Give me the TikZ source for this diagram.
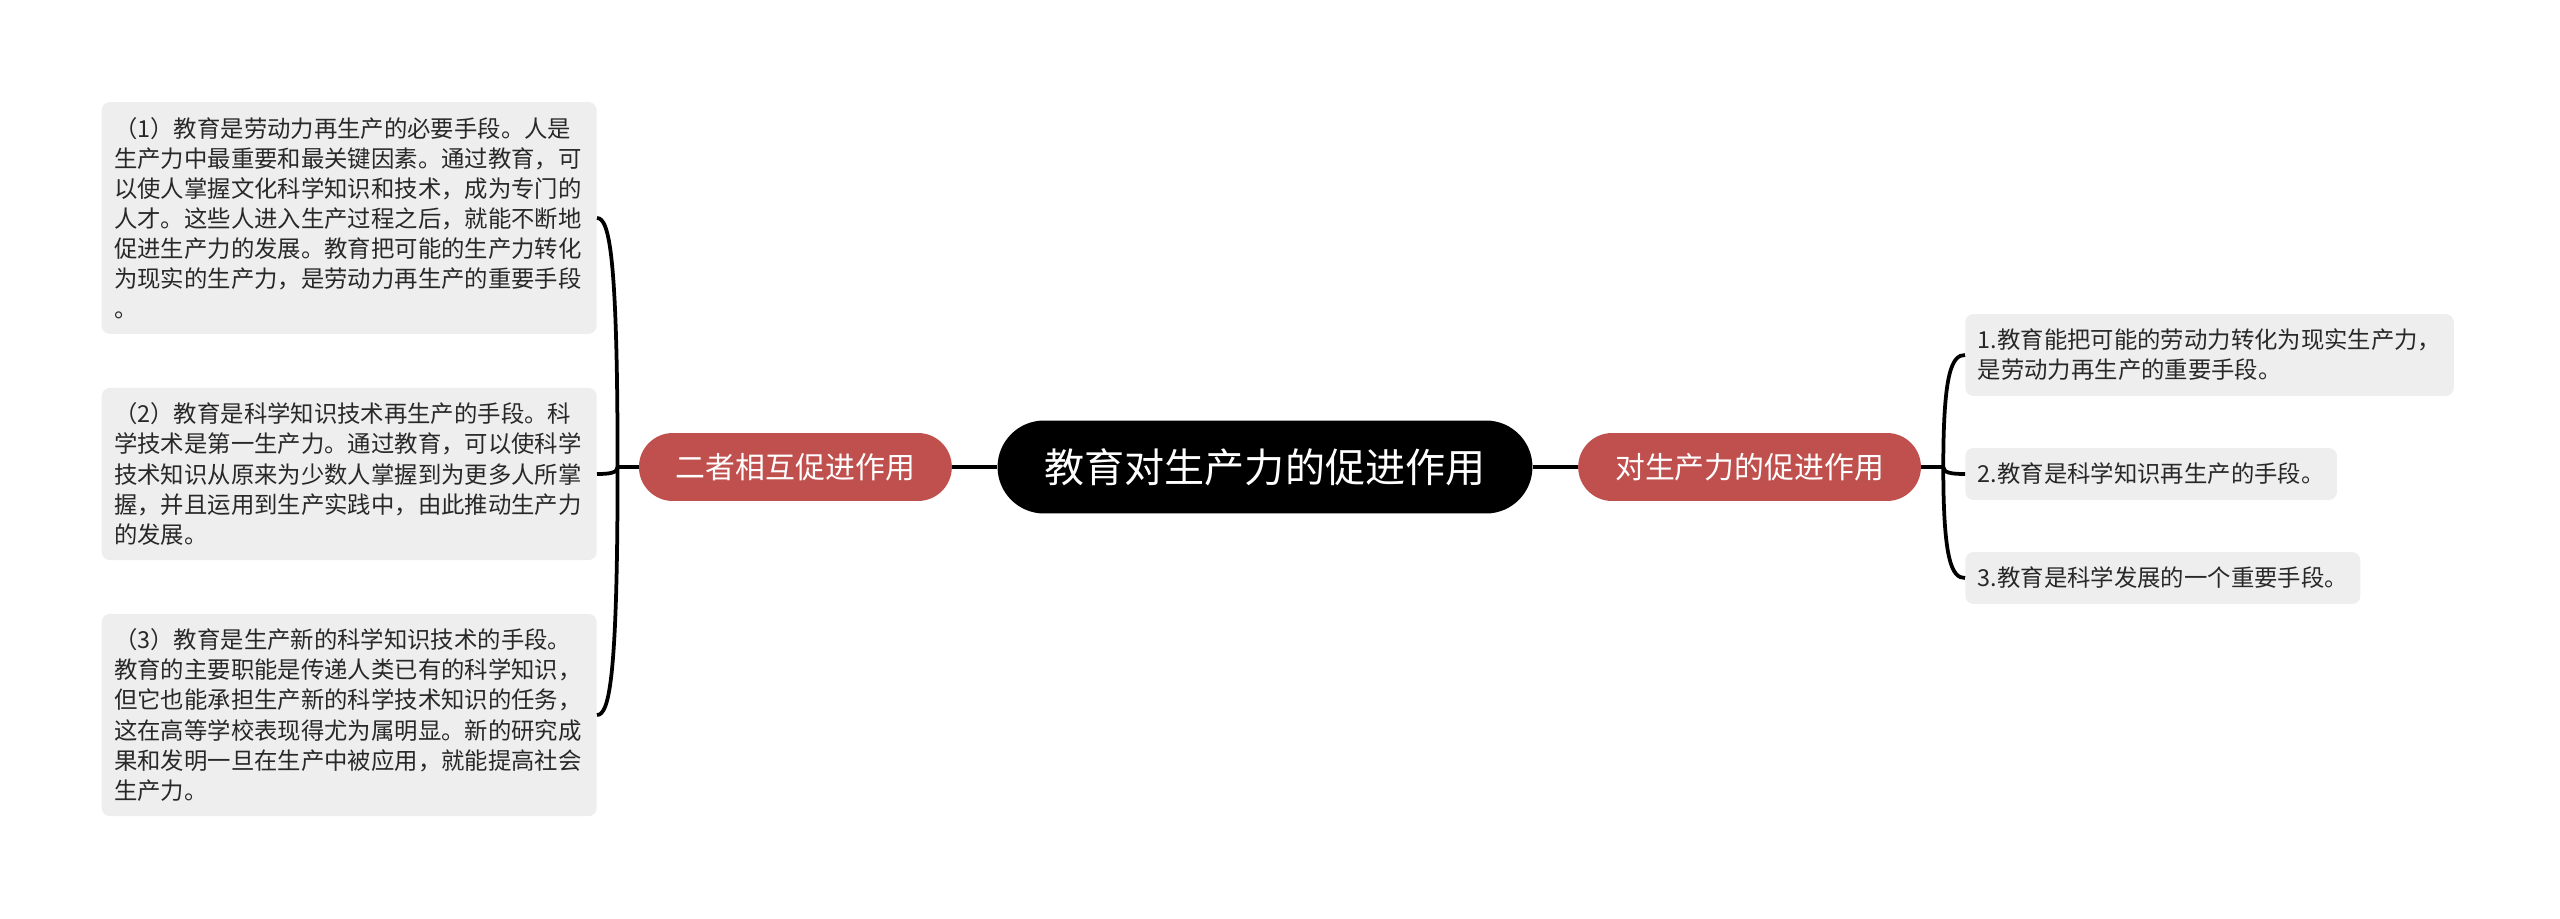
\documentclass[tikz,border=0pt]{standalone}
\usepackage{fontspec}
\setmainfont{Noto Sans CJK SC}
\usetikzlibrary{positioning,calc}
\definecolor{branchred}{RGB}{192,80,77}
\definecolor{leafgray}{RGB}{238,238,238}
\definecolor{leaftext}{RGB}{40,40,40}
\tikzset{
  root/.style={fill=black, text=white, rounded corners=0.93cm,
    minimum width=10.7cm, minimum height=1.86cm, inner sep=0pt,
    font=\fontsize{22.8pt}{26pt}\selectfont},
  branch/.style={fill=branchred, text=white, rounded corners=0.68cm,
    minimum height=1.36cm, inner xsep=0.74cm, inner ysep=0pt,
    font=\fontsize{17pt}{20pt}\selectfont},
  leaf/.style={fill=leafgray, text=leaftext, rounded corners=0.16cm,
    inner xsep=0.25cm, inner ysep=0.3cm, align=left,
    font=\fontsize{13.3pt}{17.1pt}\selectfont},
  link/.style={draw=black, line width=0.075cm}
}

\begin{document}
\begin{tikzpicture}[x=0.02cm, y=-0.02cm, node distance=0.9cm]
  \useasboundingbox (0,0) rectangle (2560,919);

  \node[root] (root) at (1265,467) {教育对生产力的促进作用};
  \node[branch, left=of root] (mutual) {二者相互促进作用};
  \node[branch, right=of root] (prod) {对生产力的促进作用};

  \coordinate (jl) at ($(mutual.west)+(-21,0)$);
  \coordinate (jr) at ($(prod.east)+(22,0)$);

  % left leaves
  \node[leaf, anchor=east, text width=9.4cm] (a1) at (597,218) {%
    （1）教育是劳动力再生产的必要手段。人是\\
    生产力中最重要和最关键因素。通过教育，可\\
    以使人掌握文化科学知识和技术，成为专门的\\
    人才。这些人进入生产过程之后，就能不断地\\
    促进生产力的发展。教育把可能的生产力转化\\
    为现实的生产力，是劳动力再生产的重要手段\\
    。};
  \node[leaf, anchor=east, text width=9.4cm] (a2) at (597,474) {%
    （2）教育是科学知识技术再生产的手段。科\\
    学技术是第一生产力。通过教育，可以使科学\\
    技术知识从原来为少数人掌握到为更多人所掌\\
    握，并且运用到生产实践中，由此推动生产力\\
    的发展。};
  \node[leaf, anchor=east, text width=9.4cm] (a3) at (597,715) {%
    （3）教育是生产新的科学知识技术的手段。\\
    教育的主要职能是传递人类已有的科学知识，\\
    但它也能承担生产新的科学技术知识的任务，\\
    这在高等学校表现得尤为属明显。新的研究成\\
    果和发明一旦在生产中被应用，就能提高社会\\
    生产力。};

  % right leaves
  \node[leaf, anchor=west] (b1) at (1965,355) {%
    1.教育能把可能的劳动力转化为现实生产力，\\
    是劳动力再生产的重要手段。};
  \node[leaf, anchor=west] (b2) at (1965,474) {2.教育是科学知识再生产的手段。};
  \node[leaf, anchor=west] (b3) at (1965,578) {3.教育是科学发展的一个重要手段。};

  \draw[link] (mutual) -- (root);
  \draw[link] (root) -- (prod);
  \draw[link] (mutual.west) -- (jl);
  \draw[link] (prod.east) -- (jr);

  \foreach \leaf in {a1,a2,a3}
    \draw[link] (jl) .. controls ($(jl)!0.85!(jl|-\leaf.east)$)
      and ($(jl|-\leaf.east)!0.4!(\leaf.east)$) .. (\leaf.east);
  \foreach \leaf in {b1,b2,b3}
    \draw[link] (jr) .. controls ($(jr)!0.85!(jr|-\leaf.west)$)
      and ($(jr|-\leaf.west)!0.4!(\leaf.west)$) .. (\leaf.west);

\end{tikzpicture}
\end{document}
